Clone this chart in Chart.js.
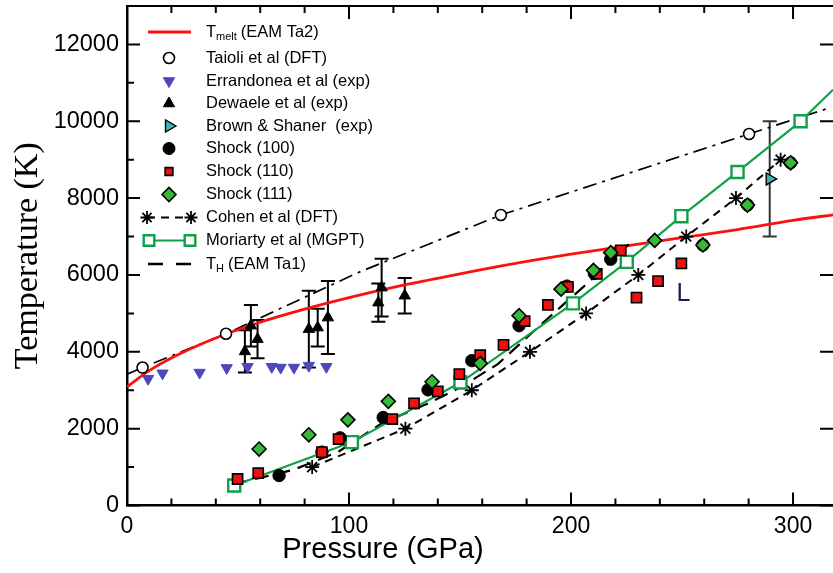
<!DOCTYPE html>
<html>
<head>
<meta charset="utf-8">
<title>Ta melting and shock temperatures</title>
<script src="https://cdn.jsdelivr.net/npm/chart.js@4.4.1/dist/chart.umd.min.js"></script>
<style>
  html, body { margin: 0; padding: 0; background: #fff; }
  canvas { display: block; }
</style>
</head>
<body>
<canvas id="chartTa" width="833" height="573"></canvas>
<script>
// axis ticks
const xTicks = [0, 100, 200, 300];
const yTicks = [0, 2000, 4000, 6000, 8000, 10000, 12000];

// T_melt (EAM Ta2)
const meltP = [0, 10, 20, 40, 60, 80, 100, 125, 150, 175, 200, 225, 250, 275, 300, 320];
const meltT = [3090, 3510, 3840, 4360, 4770, 5110, 5410, 5740, 6030, 6300, 6540, 6760, 6970, 7180, 7420, 7580];

// Taioli et al (DFT): fitted dash-dot curve and computed points
const taioliLineP = [0, 7, 44.6, 104, 168.4, 280.2, 316];
const taioliLineT = [3420, 3590, 4470, 6060, 7560, 9670, 10340];
const taioliP = [7, 44.6, 168.4, 280.2];
const taioliT = [3590, 4470, 7560, 9670];

// Errandonea et al (exp)
const errP = [9.5, 16, 32.7, 44.9, 54.3, 65.2, 69.2, 75.2, 81.9, 89.8];
const errT = [3300, 3440, 3460, 3580, 3610, 3610, 3590, 3590, 3640, 3610];

// Dewaele et al (exp) with error bars
const dewP = [53.1, 55.8, 58.8, 81.9, 85.9, 90.5, 113.2, 114.7, 125.1];
const dewT = [4010, 4680, 4330, 4590, 4630, 4890, 5280, 5670, 5460];
const dewErr = [550, 540, 500, 1000, 490, 950, 500, 750, 460];

// Brown & Shaner (exp)
const brownP = [289.5];
const brownT = [8500];
const brownErr = [1500];

// shock Hugoniot temperatures by orientation
const s100P = [68.5, 87.8, 96, 115.4, 135.6, 155.3, 176.6, 198.2, 210.5, 217.9, 259.4, 279.5, 298.9];
const s100T = [780, 1390, 1760, 2290, 3010, 3770, 4680, 5710, 6040, 6410, 6780, 7820, 8920];
const s110P = [49.8, 59.1, 87.8, 95.3, 119.5, 129.3, 140, 149.7, 159.1, 169.6, 179.1, 189.6, 198.6, 211.6, 222.4, 229.5, 239.2, 249.7];
const s110T = [690, 840, 1390, 1730, 2250, 2660, 2970, 3420, 3910, 4180, 4800, 5220, 5690, 6030, 6640, 5410, 5840, 6300];
const s111P = [59.5, 81.9, 99.5, 117.7, 137.4, 159.1, 176.6, 195.5, 210.1, 217.9, 237.7, 259.4, 279.5, 298.9];
const s111T = [1470, 1840, 2230, 2710, 3220, 3700, 4940, 5630, 6120, 6580, 6900, 6780, 7820, 8920];

// Cohen et al (DFT)
const cohenP = [83.4, 125.4, 155.3, 181.5, 206.8, 230.3, 251.9, 274.3, 294.4];
const cohenT = [1000, 2000, 3000, 4000, 5000, 6000, 7000, 8000, 9000];

// Moriarty et al (MGPT)
const moriP = [48.3, 101.3, 150.2, 200.9, 225.1, 249.7, 275, 303.4];
const moriT = [520, 1650, 3200, 5260, 6340, 7530, 8680, 10000];
const moriTailP = [303.4, 318];
const moriTailT = [10000, 10820];

// T_H (EAM Ta1)
const thP = [48, 60, 75, 95, 115, 135, 150, 167, 185, 195, 212, 226];
const thT = [560, 720, 930, 1390, 2150, 2640, 3070, 3680, 4630, 5150, 6020, 6800];

const pts = (xs, ys) => xs.map((v, i) => ({ x: v, y: ys[i] }));

const RED = '#ff1010';
const BLUE = '#4d48b8';
const TEAL = '#3cb6b8';
const GREEN_LINE = '#10a048';
const GREEN_FILL = '#36b936';
const SQ_RED = '#ee1111';

const datasets = [
  { label: 'T_melt (EAM Ta2)', data: pts(meltP, meltT), showLine: true, borderColor: RED, borderWidth: 2.8,
    pointRadius: 0, cubicInterpolationMode: 'monotone', order: 8 },
  { label: 'Taioli fit', data: pts(taioliLineP, taioliLineT), showLine: true, borderColor: '#000', borderWidth: 1.7,
    borderDash: [14, 6, 3, 6], pointRadius: 0, order: 9 },
  { label: 'Taioli et al (DFT)', data: pts(taioliP, taioliT), pointStyle: 'circle', pointRadius: 5.5,
    pointBackgroundColor: '#fff', pointBorderColor: '#000', pointBorderWidth: 1.6, order: 1 },
  { label: 'Errandonea et al (exp)', data: pts(errP, errT), pointStyle: 'triangle', rotation: 180, pointRadius: 6.5,
    pointBackgroundColor: BLUE, pointBorderColor: BLUE, pointBorderWidth: 1, order: 2 },
  { label: 'Dewaele et al (exp)', data: pts(dewP, dewT), pointStyle: 'triangle', pointRadius: 6.5,
    pointBackgroundColor: '#000', pointBorderColor: '#000', pointBorderWidth: 1, order: 2 },
  { label: 'Brown & Shaner (exp)', data: pts(brownP, brownT), pointStyle: 'triangle', rotation: 90, pointRadius: 7,
    pointBackgroundColor: TEAL, pointBorderColor: '#000', pointBorderWidth: 1.4, order: 2 },
  { label: 'Moriarty line', data: pts(moriTailP, moriTailT), showLine: true, borderColor: GREEN_LINE, borderWidth: 2.2,
    pointRadius: 0, order: 6 },
  { label: 'Moriarty et al (MGPT)', data: pts(moriP, moriT), showLine: true, borderColor: GREEN_LINE, borderWidth: 2.2,
    pointStyle: 'rect', pointRadius: 8.5, pointBackgroundColor: '#fff', pointBorderColor: GREEN_LINE, pointBorderWidth: 2.4, order: 5 },
  { label: 'T_H (EAM Ta1)', data: pts(thP, thT), showLine: true, borderColor: '#000', borderWidth: 2.2,
    borderDash: [14, 8], pointRadius: 0, order: 7 },
  { label: 'Cohen et al (DFT)', data: pts(cohenP, cohenT), showLine: true, borderColor: '#000', borderWidth: 2,
    borderDash: [8, 6], pointStyle: 'star', pointRadius: 7, pointBorderColor: '#000', pointBorderWidth: 1.8, order: 6 },
  { label: 'Shock (100)', data: pts(s100P, s100T), pointStyle: 'circle', pointRadius: 6.2,
    pointBackgroundColor: '#000', pointBorderColor: '#000', pointBorderWidth: 1, order: 4 },
  { label: 'Shock (110)', data: pts(s110P, s110T), pointStyle: 'rect', pointRadius: 7.2,
    pointBackgroundColor: SQ_RED, pointBorderColor: '#000', pointBorderWidth: 1.6, order: 3 },
  { label: 'Shock (111)', data: pts(s111P, s111T), pointStyle: 'rectRot', pointRadius: 7,
    pointBackgroundColor: GREEN_FILL, pointBorderColor: '#000', pointBorderWidth: 1.6, order: 1 }
];

function drawErrBars(ctx, xs, ys, ps, ts, errs, color) {
  ctx.strokeStyle = color;
  ctx.lineWidth = 2;
  ps.forEach((p, i) => {
    const px = xs.getPixelForValue(p);
    const top = ys.getPixelForValue(ts[i] + errs[i]);
    const bot = ys.getPixelForValue(ts[i] - errs[i]);
    ctx.beginPath();
    ctx.moveTo(px, top); ctx.lineTo(px, bot);
    ctx.moveTo(px - 7, top); ctx.lineTo(px + 7, top);
    ctx.moveTo(px - 7, bot); ctx.lineTo(px + 7, bot);
    ctx.stroke();
  });
}

function marker(ctx, style, x, y, r, fill, stroke, bw, rotation) {
  ctx.save();
  ctx.fillStyle = fill;
  ctx.strokeStyle = stroke;
  ctx.lineWidth = bw;
  Chart.helpers.drawPoint(ctx, { pointStyle: style, radius: r, rotation: rotation || 0, borderWidth: bw }, x, y);
  ctx.restore();
}

function subLabel(ctx, x, y, main, sub, rest) {
  ctx.font = '16.5px "Liberation Sans", Arial, sans-serif';
  ctx.fillText(main, x, y);
  let cx = x + ctx.measureText(main).width;
  ctx.font = '11px "Liberation Sans", Arial, sans-serif';
  ctx.fillText(sub, cx, y + 5);
  cx += ctx.measureText(sub).width + 4;
  ctx.font = '16.5px "Liberation Sans", Arial, sans-serif';
  ctx.fillText(rest, cx, y);
}

const frameAndLegend = {
  id: 'frameAndLegend',
  beforeDatasetsDraw(chart) {
    const { ctx, scales: { x, y } } = chart;
    ctx.save();
    drawErrBars(ctx, x, y, dewP, dewT, dewErr, '#000');
    drawErrBars(ctx, x, y, brownP, brownT, brownErr, '#333');
    ctx.restore();
  },
  afterDraw(chart) {
    const { ctx, chartArea: { left, right, top, bottom }, scales: { x, y } } = chart;
    ctx.save();

    // inward ticks on all four sides, plus the top border
    ctx.strokeStyle = '#000';
    ctx.lineWidth = 2;
    ctx.beginPath();
    for (let v = 0; v <= x.max; v += 20) {
      const px = x.getPixelForValue(v);
      const len = v % 100 === 0 ? 13 : 7;
      ctx.moveTo(px, bottom); ctx.lineTo(px, bottom - len);
      ctx.moveTo(px, top); ctx.lineTo(px, top + len);
    }
    for (let v = 0; v <= y.max; v += 1000) {
      const py = y.getPixelForValue(v);
      const len = v % 2000 === 0 ? 13 : 7;
      ctx.moveTo(left, py); ctx.lineTo(left + len, py);
      if (v % 2000 === 0) { ctx.moveTo(right, py); ctx.lineTo(right - 13, py); }
    }
    ctx.moveTo(left, top); ctx.lineTo(right, top);
    ctx.stroke();

    // legend
    const mx = 169, tx = 206;
    const rows = [32, 58, 81, 103.5, 126, 148.5, 171.5, 194.5, 217.5, 240.5, 264];
    ctx.fillStyle = '#000';
    ctx.textBaseline = 'middle';
    ctx.font = '16.5px "Liberation Sans", Arial, sans-serif';

    ctx.strokeStyle = RED; ctx.lineWidth = 3;
    ctx.beginPath(); ctx.moveTo(148, rows[0]); ctx.lineTo(191, rows[0]); ctx.stroke();
    subLabel(ctx, tx, rows[0], 'T', 'melt', '(EAM Ta2)');

    marker(ctx, 'circle', mx, rows[1], 5.5, '#fff', '#000', 1.6);
    ctx.fillText('Taioli et al (DFT)', tx, rows[1]);
    marker(ctx, 'triangle', mx, rows[2], 6.5, BLUE, BLUE, 1, 180);
    ctx.fillText('Errandonea et al (exp)', tx, rows[2]);
    marker(ctx, 'triangle', mx, rows[3], 6.5, '#000', '#000', 1);
    ctx.fillText('Dewaele et al (exp)', tx, rows[3]);
    marker(ctx, 'triangle', mx, rows[4], 7, TEAL, '#000', 1.4, 90);
    ctx.fillText('Brown & Shaner  (exp)', tx, rows[4]);
    marker(ctx, 'circle', mx, rows[5], 6, '#000', '#000', 1);
    ctx.fillText('Shock (100)', tx, rows[5]);
    marker(ctx, 'rect', mx, rows[6], 5.5, SQ_RED, '#000', 1.6);
    ctx.fillText('Shock (110)', tx, rows[6]);
    marker(ctx, 'rectRot', mx, rows[7], 7, GREEN_FILL, '#000', 1.6);
    ctx.fillText('Shock (111)', tx, rows[7]);

    ctx.strokeStyle = '#000'; ctx.lineWidth = 2; ctx.setLineDash([8, 6]);
    ctx.beginPath(); ctx.moveTo(147, rows[8]); ctx.lineTo(191, rows[8]); ctx.stroke();
    ctx.setLineDash([]);
    marker(ctx, 'star', 147, rows[8], 6.5, '#000', '#000', 1.8);
    marker(ctx, 'star', 191, rows[8], 6.5, '#000', '#000', 1.8);
    ctx.fillText('Cohen et al (DFT)', tx, rows[8]);

    ctx.strokeStyle = GREEN_LINE; ctx.lineWidth = 2.2;
    ctx.beginPath(); ctx.moveTo(149, rows[9]); ctx.lineTo(190, rows[9]); ctx.stroke();
    marker(ctx, 'rect', 149, rows[9], 7.5, '#fff', GREEN_LINE, 2.4);
    marker(ctx, 'rect', 190, rows[9], 7.5, '#fff', GREEN_LINE, 2.4);
    ctx.fillText('Moriarty et al (MGPT)', tx, rows[9]);

    ctx.strokeStyle = '#000'; ctx.lineWidth = 2.4; ctx.setLineDash([15, 13]);
    ctx.beginPath(); ctx.moveTo(148, rows[10]); ctx.lineTo(191, rows[10]); ctx.stroke();
    ctx.setLineDash([]);
    subLabel(ctx, tx, rows[10], 'T', 'H', '(EAM Ta1)');

    // liquid marker next to the shock-melted points
    ctx.fillStyle = '#1a1a5a';
    ctx.font = '25px "Liberation Sans", Arial, sans-serif';
    ctx.textBaseline = 'alphabetic';
    ctx.fillText('L', x.getPixelForValue(247.5), y.getPixelForValue(5330));

    // pressure axis title
    ctx.fillStyle = '#000';
    ctx.font = '29px "Liberation Sans", Arial, sans-serif';
    ctx.textAlign = 'center';
    ctx.textBaseline = 'middle';
    ctx.fillText('Pressure (GPa)', 383, 550);
    ctx.restore();
  }
};

new Chart(document.getElementById('chartTa'), {
  type: 'scatter',
  data: { datasets: datasets },
  options: {
    responsive: false,
    animation: false,
    layout: { autoPadding: false, padding: { top: 6, right: -4, left: 0, bottom: 0 } },
    plugins: { legend: { display: false }, tooltip: { enabled: false } },
    scales: {
      x: {
        type: 'linear', min: 0, max: 318,
        afterBuildTicks: (s) => { s.ticks = xTicks.map(v => ({ value: v })); },
        afterFit: (s) => { s.height = 67.5; s.paddingLeft = 0; s.paddingRight = 0; },
        grid: { display: false, drawTicks: false },
        border: { display: true, color: '#000', width: 2.5 },
        ticks: { color: '#000', padding: 7, maxRotation: 0, callback: (v) => String(v),
          font: { family: '"Liberation Sans", Arial, sans-serif', size: 23 } }
      },
      y: {
        type: 'linear', min: 0, max: 13000,
        afterBuildTicks: (s) => { s.ticks = yTicks.map(v => ({ value: v })); },
        afterFit: (s) => { s.width = 127; s.paddingTop = 0; s.paddingBottom = 0; },
        grid: { display: false, drawTicks: false },
        border: { display: true, color: '#000', width: 2.5 },
        title: { display: true, text: 'Temperature (K)', color: '#000', padding: { top: 8, bottom: 0 },
          font: { family: '"Liberation Serif", "Times New Roman", serif', size: 34 } },
        ticks: { color: '#000', padding: 8, callback: (v) => String(v),
          font: { family: '"Liberation Sans", Arial, sans-serif', size: 23.5 } }
      }
    }
  },
  plugins: [frameAndLegend]
});
</script>
</body>
</html>
